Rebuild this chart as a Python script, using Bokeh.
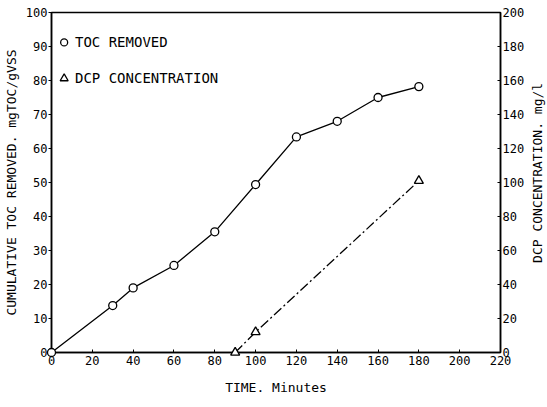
import math
from bokeh.plotting import figure
from bokeh.layouts import row
from bokeh.models import Range1d, LinearAxis, FixedTicker
from bokeh.embed import file_html
from bokeh.resources import INLINE
from bokeh.core.properties import value

# Data
toc_time = [0, 30, 40, 60, 80, 100, 120, 140, 160, 180]
toc_removed = [0, 13.8, 19, 25.6, 35.5, 49.4, 63.4, 68, 75, 78.2]
dcp_time = [90, 100, 180]
dcp_conc = [0, 12, 101]

x_ticks = list(range(0, 221, 20))
y_ticks = list(range(0, 101, 10))
y2_ticks = list(range(0, 201, 20))

FONT = "DejaVu Sans Mono"

p = figure(width=527, height=407, output_backend="svg", toolbar_location=None,
           x_range=Range1d(0, 220), y_range=Range1d(0, 100),
           min_border_left=50, min_border_right=27, min_border_top=12, min_border_bottom=55)
p.extra_y_ranges = {"dcp": Range1d(0, 200)}

p.xgrid.visible = False
p.ygrid.visible = False
p.outline_line_color = "black"
p.outline_line_width = 1.5

def style_axis(ax, ticks):
    ax.ticker = FixedTicker(ticks=ticks)
    ax.minor_tick_line_color = None
    ax.axis_line_color = "black"
    ax.axis_line_width = 1.5
    ax.major_tick_line_color = "black"
    ax.major_tick_in = 3
    ax.major_tick_out = 0
    ax.major_label_text_font = FONT
    ax.major_label_text_font_size = "12px"
    ax.major_label_text_color = "black"
    ax.axis_label_text_font = FONT
    ax.axis_label_text_font_size = "13px"
    ax.axis_label_text_font_style = "normal"
    ax.axis_label_text_color = "black"
    ax.major_label_standoff = 3

style_axis(p.xaxis[0], x_ticks)
p.xaxis[0].axis_label = "TIME. Minutes"
p.xaxis[0].axis_label_standoff = 12

style_axis(p.yaxis[0], y_ticks)
p.yaxis[0].axis_label = "CUMULATIVE TOC REMOVED. mgTOC/gVSS"
p.yaxis[0].axis_label_standoff = 4
p.yaxis[0].major_tick_in = 0
p.yaxis[0].major_tick_out = 3
p.yaxis[0].major_label_standoff = 1

ax2 = LinearAxis(y_range_name="dcp")
style_axis(ax2, y2_ticks)
ax2.major_label_standoff = 2
p.add_layout(ax2, "right")

# TOC series
p.line(toc_time, toc_removed, line_color="black", line_width=1.3)
p.scatter(toc_time, toc_removed, marker="circle", size=8, fill_color="white",
          line_color="black", line_width=1.3, level="overlay")

# DCP series
p.line(dcp_time, dcp_conc, y_range_name="dcp", line_color="black", line_width=1.3,
       line_dash="10 3 2 3")
p.scatter(dcp_time, dcp_conc, y_range_name="dcp", marker="triangle", size=9,
          fill_color="white", line_color="black", line_width=1.3, level="overlay")

# Legend (drawn in data space)
p.scatter([6.2], [91.2], marker="circle", size=7, fill_color="white",
          line_color="black", line_width=1.3)
p.scatter([6.2], [80.6], marker="triangle", size=8, fill_color="white",
          line_color="black", line_width=1.3)
p.text([11.5], [91.2], text=["TOC REMOVED"], text_font=value(FONT),
       text_font_size="14px", text_baseline="middle", text_color="black")
p.text([11.5], [80.6], text=["DCP CONCENTRATION"], text_font=value(FONT),
       text_font_size="14px", text_baseline="middle", text_color="black")

# Narrow strip holding the right-hand axis title, reading bottom-to-top
side = figure(width=20, height=407, output_backend="svg", toolbar_location=None,
              x_range=Range1d(0, 1), y_range=Range1d(0, 407),
              x_axis_type=None, y_axis_type=None, min_border=0)
side.outline_line_color = None
side.xgrid.visible = False
side.ygrid.visible = False
side.text([0.5], [215], text=["DCP CONCENTRATION. mg/l"], angle=math.pi / 2,
          text_font=value(FONT), text_font_size="13px", text_align="center",
          text_baseline="middle", text_color="black")

layout = row(p, side, spacing=0)
open("out.html", "w").write(file_html(layout, INLINE))
